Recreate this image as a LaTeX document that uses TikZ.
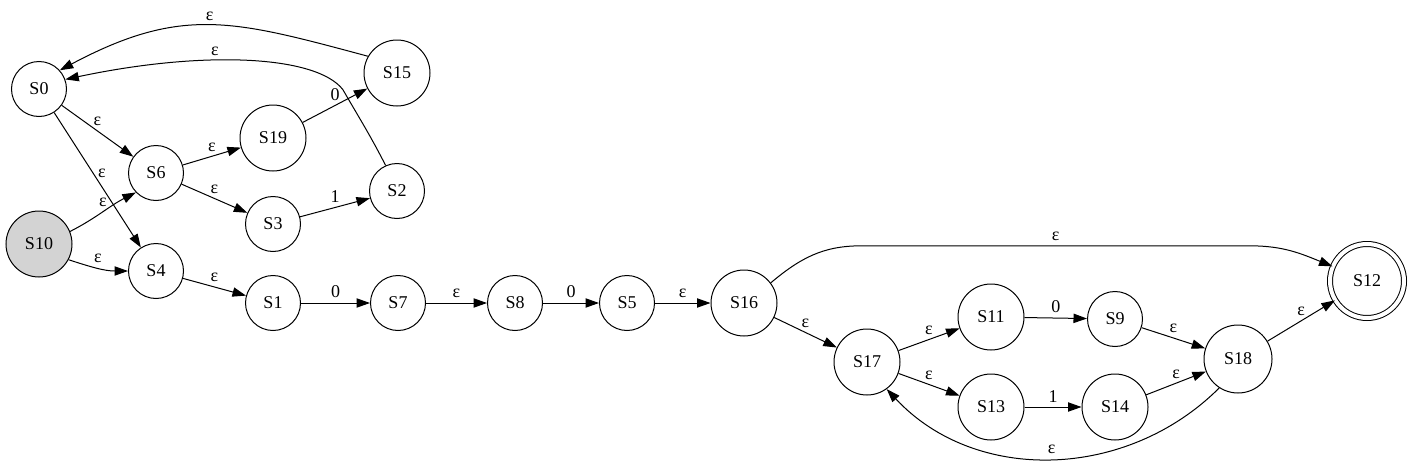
\documentclass[tikz,border=0pt]{standalone}
\usepackage{fontspec}
\setmainfont{Liberation Serif}
\usetikzlibrary{arrows.meta, positioning}
\definecolor{sgray}{HTML}{D3D3D3}
\tikzstyle{state} = [circle, draw, line width=1pt, minimum size=55pt, inner sep=0pt, font=\fontsize{18}{20}\selectfont]
\tikzstyle{bigstate} = [state, minimum size=66pt]
\tikzstyle{initstate} = [bigstate, fill=sgray]
\tikzstyle{final} = [state, double, double distance=4pt, minimum size=74pt]
\tikzstyle{trans} = [line width=1pt, ->, >={Triangle[length=13.5pt, width=9.3pt]}]
\tikzstyle{lbl} = [font=\fontsize{18}{20}\selectfont, inner sep=4.5pt]

\begin{document}
\begin{tikzpicture}[x=1pt, y=1pt, on grid]
  \useasboundingbox (0,0) rectangle (1411,-466);
  \node (s0) [state] at (39,-89) {S0};
  \node (s6) [state, below right = 84pt and 117pt of s0] {S6};
  \node (s19) [bigstate, above right = 35pt and 117pt of s6] {S19};
  \node (s3) [state, below right = 51pt and 117pt of s6] {S3};
  \node (s15) [bigstate, above right = 65pt and 124pt of s19] {S15};
  \node (s2) [state, above right = 33pt and 124pt of s3] {S2};
  \node (s10) [initstate, below = 155pt of s0] {S10};
  \node (s4) [state, below = 98pt of s6] {S4};
  \node (s1) [state, below right = 32pt and 117pt of s4] {S1};
  \node (s7) [state, right = 125pt of s1] {S7};
  \node (s8) [state, right = 117pt of s7] {S8};
  \node (s5) [state, right = 112pt of s8] {S5};
  \node (s16) [bigstate, right = 117pt of s5] {S16};
  \node (s17) [bigstate, below right = 59pt and 123pt of s16] {S17};
  \node (s11) [bigstate, above right = 45pt and 124pt of s17] {S11};
  \node (s13) [bigstate, below right = 45pt and 124pt of s17] {S13};
  \node (s9) [state, below right = 2pt and 124pt of s11] {S9};
  \node (s14) [bigstate, right = 124pt of s13] {S14};
  \node (s18) [bigstate, minimum size=68pt, below right = 40pt and 123pt of s9] {S18};
  \node (s12) [final, above right = 78pt and 129pt of s18] {S12};

  \draw [trans] (s0) -- node [lbl, above] {ε} (s6);
  \draw [trans] (s0) -- node [lbl, right, pos=0.45] {ε} (s4);
  \draw [trans] (s10.22) to[out=27, in=207] node [lbl, above] {ε} (s6.224);
  \draw [trans] (s10.-28) to[out=-18, in=180] node [lbl, above] {ε} (s4.west);
  \draw [trans] (s6) -- node [lbl, above] {ε} (s19);
  \draw [trans] (s6) -- node [lbl, above] {ε} (s3);
  \draw [trans] (s19) -- node [lbl, above] {0} (s15);
  \draw [trans] (s3) -- node [lbl, above] {1} (s2);
  \draw [trans] (s15.150) to[out=165, in=28, looseness=1.15] node [lbl, above] {ε} (s0.42);
  \draw [trans] (s2.114) to[out=117, in=-60] ++(-42.8,75.9) to[out=128, in=12, out looseness=0.4, in looseness=1.3] node [lbl, above, pos=0.6] {ε} (s0.20);
  \draw [trans] (s4) -- node [lbl, above] {ε} (s1);
  \draw [trans] (s1) -- node [lbl, above] {0} (s7);
  \draw [trans] (s7) -- node [lbl, above] {ε} (s8);
  \draw [trans] (s8) -- node [lbl, above] {0} (s5);
  \draw [trans] (s5) -- node [lbl, above] {ε} (s16);
  \draw [trans] (s16.37) to[out=40, in=180] ++(90,37) -- node [lbl, above] {ε} ++(390,0) to[out=0, in=158] (s12.157);
  \draw [trans] (s16) -- node [lbl, above] {ε} (s17);
  \draw [trans] (s17) -- node [lbl, above] {ε} (s11);
  \draw [trans] (s17) -- node [lbl, above] {ε} (s13);
  \draw [trans] (s11) -- node [lbl, above] {0} (s9);
  \draw [trans] (s13) -- node [lbl, above] {1} (s14);
  \draw [trans] (s9) -- node [lbl, above] {ε} (s18);
  \draw [trans] (s14) -- node [lbl, above] {ε} (s18);
  \draw [trans] (s18) -- node [lbl, above] {ε} (s12);
  \draw [trans] (s18.237) to[out=225, in=-47] node [lbl, above] {ε} (s17.-54);
\end{tikzpicture}
\end{document}
